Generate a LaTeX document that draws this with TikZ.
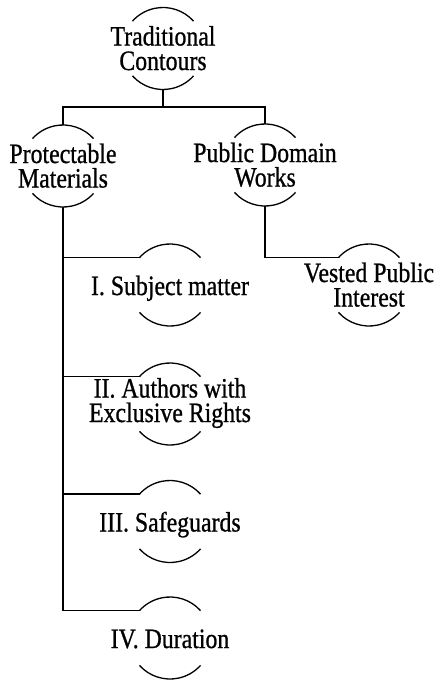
\documentclass[tikz,border=0pt]{standalone}
\usepackage{fontspec}
\setmainfont[FakeStretch=0.85,FakeBold=0.8]{Liberation Serif}
\begin{document}
\begin{tikzpicture}[x=1pt,y=-1pt,
  bub/.style={circle, minimum size=82pt, inner sep=0pt, outer sep=0pt},
  lbl/.style={font=\fontsize{28}{24.5}\selectfont, align=center, inner sep=0pt, anchor=base},
  link/.style={line width=1.3pt},
  rim/.style={line width=1.3pt}]
\useasboundingbox (0,0) rectangle (439,680);

% bubbles (only their top and bottom rims are drawn)
\node[bub] (T)  at (163,48.5) {};
\node[bub] (P)  at (63,166)   {};
\node[bub] (D)  at (265,165)  {};
\node[bub] (V)  at (369,285)  {};
\node[bub] (S1) at (170,285)  {};
\node[bub] (S2) at (170,404)  {};
\node[bub] (S3) at (170,521.5){};
\node[bub] (S4) at (170,638)  {};

\foreach \n in {T,P,D,V,S1,S2,S3,S4}{
  \draw[rim] (\n.42) arc[start angle=42, end angle=138, radius=41pt];
  \draw[rim] (\n.222) arc[start angle=222, end angle=318, radius=41pt];
}

% labels (two-line labels sit on the baseline of their last line)
\node[lbl] (Tt)  at ([yshift=-21.5pt]T.center)  {Traditional\\Contours};
\node[lbl] (Pt)  at ([yshift=-21.5pt]P.center)  {Protectable\\Materials};
\node[lbl] (Dt)  at ([yshift=-21.5pt]D.center)  {Public Domain\\Works};
\node[lbl] (Vt)  at ([yshift=-21.5pt]V.center)  {Vested Public\\Interest};
\node[lbl] (S1t) at ([yshift=-10pt]S1.center)   {I. Subject matter};
\node[lbl] (S2t) at ([yshift=-18pt]S2.center)   {II. Authors with\\Exclusive Rights};
\node[lbl] (S3t) at ([yshift=-10pt]S3.center)   {III. Safeguards};
\node[lbl] (S4t) at ([yshift=-10pt]S4.center)   {IV. Duration};

% connectors
\coordinate (J) at (163,107);
\draw[link] (T) -- (J);
\draw[link] (J) -| (P.north);
\draw[link] (J) -| (D.north);
\foreach \s in {S1,S2,S3,S4}
  \draw[link] (P.south) |- (\s.138);
\draw[link] (D.south) |- (V.138);
\end{tikzpicture}
\end{document}
